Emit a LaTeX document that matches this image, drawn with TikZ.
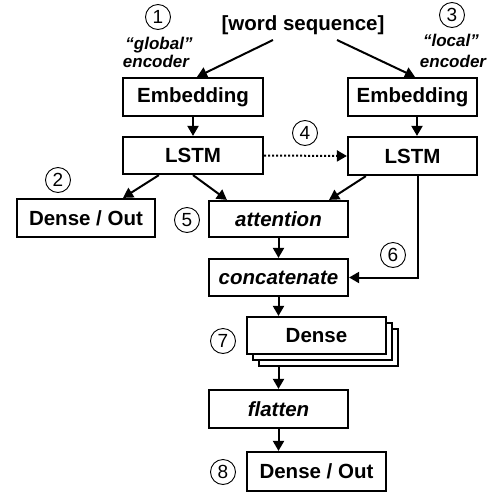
\documentclass[tikz,border=0pt]{standalone}
\usepackage{fontspec}
\setmainfont{Liberation Sans}
\usetikzlibrary{arrows.meta,calc}
\begin{document}
\begin{tikzpicture}[x=1pt,y=-1pt,
  box/.style={draw,line width=2.2pt,rectangle,inner sep=0pt,fill=white,
    font=\fontsize{20.5}{24}\selectfont\bfseries},
  ibox/.style={box,font=\fontsize{20.5}{24}\selectfont\bfseries\itshape},
  arr/.style={line width=2pt,-{Triangle[length=10pt,width=11pt]}},
  num/.style={draw,circle,line width=0.9pt,minimum size=25pt,inner sep=0pt,
    font=\fontsize{19}{19}\selectfont},
  lbl/.style={font=\fontsize{17}{20}\selectfont\bfseries\itshape,inner sep=0pt,anchor=base}]
\useasboundingbox (0,0) rectangle (487,496);

\node[inner sep=0pt,font=\fontsize{20.5}{24}\selectfont\bfseries] (ws) at (303,25) {[word sequence]};
\coordinate (wsL) at (273,40);
\coordinate (wsR) at (337,40);

\node[box,minimum width=140pt,minimum height=38pt] (emb1) at (193,97) {Embedding};
\node[box,minimum width=129pt,minimum height=38pt] (emb2) at (412.5,97) {Embedding};
\node[box,minimum width=140pt,minimum height=37pt] (lstm1) at (193,155.5) {LSTM};
\node[box,minimum width=129pt,minimum height=38pt] (lstm2) at (412.5,156) {LSTM};
\node[box,minimum width=138pt,minimum height=38pt] (dout1) at (86,218) {Dense / Out};
\node[ibox,minimum width=139pt,minimum height=36pt] (att) at (278.5,219) {attention};
\node[ibox,minimum width=139pt,minimum height=37pt] (concat) at (278.5,277.5) {concatenate};
\node[box,minimum width=139pt,minimum height=37pt] (dense3) at (328.5,347.5) {};
\node[box,minimum width=139pt,minimum height=37pt] (dense2) at (322.5,341.5) {};
\node[box,minimum width=139pt,minimum height=37pt] (dense) at (316.5,335.5) {Dense};
\node[ibox,minimum width=139pt,minimum height=38pt] (flat) at (278.5,409) {flatten};
\node[box,minimum width=139pt,minimum height=39pt] (dout2) at (316.5,471.5) {Dense / Out};

\node[num] (n1) at (158,17) {1};
\node[num] (n2) at (58,180) {2};
\node[num] (n3) at (452,15) {3};
\node[num] (n4) at (305,133) {4};
\node[num] (n5) at (187,220) {5};
\node[num] (n6) at (393,255) {6};
\node[num] (n7) at (223,341) {7};
\node[num] (n8) at (223,472) {8};

\node[lbl] (g1) at (159,49) {“global”};
\node[lbl] (g2) at (156,67) {encoder};
\node[lbl] (l1) at (451,46) {“local”};
\node[lbl] (l2) at (453,67) {encoder};

\draw[arr] (wsL) -- ([xshift=4pt]emb1.north);
\draw[arr] (wsR) -- ([xshift=2.5pt]emb2.north);
\draw[arr] (emb1.south) -- (lstm1.north);
\draw[arr] ([xshift=4.5pt]emb2.south) -- ([xshift=4.5pt]lstm2.north);
\draw[arr] ([xshift=37pt]lstm1.south west) -- ([xshift=37pt]dout1.north);
\draw[arr] (lstm1.south) -- ([xshift=19pt]att.north west);
\draw[arr] ([xshift=19pt]lstm2.south west) -- ([xshift=-20pt]att.north east);
\draw[line width=2pt,dotted,-{Triangle[length=10pt,width=11pt]}] (lstm1.east) -- (lstm2.west);
\draw[arr] ([xshift=5.5pt]lstm2.south) |- (concat.east);
\draw[arr] (att.south) -- (concat.north);
\draw[arr] (concat.south) -- (concat.south |- dense.north);
\draw[arr] (dense3.south -| flat.north) -- (flat.north);
\draw[arr] (flat.south) -- (flat.south |- dout2.north);
\end{tikzpicture}
\end{document}
